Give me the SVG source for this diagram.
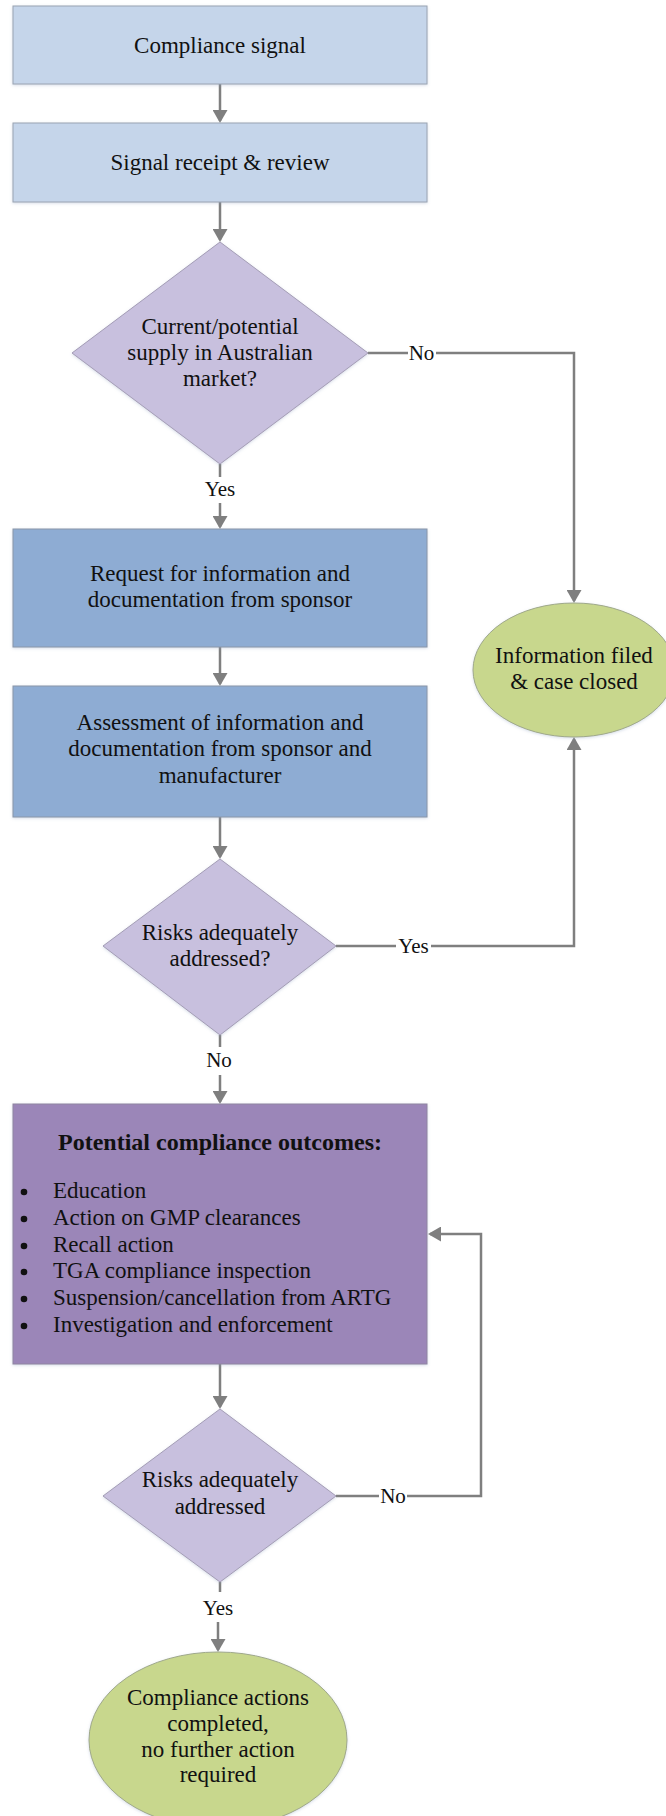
<svg xmlns="http://www.w3.org/2000/svg" width="666" height="1816" viewBox="0 0 666 1816">
<defs>
<style>
.t{font-family:"Liberation Serif","Times New Roman",serif;font-size:23px;fill:#111;text-anchor:middle}
.l{font-family:"Liberation Serif","Times New Roman",serif;font-size:21px;fill:#111;text-anchor:middle}
.b{font-family:"Liberation Serif","Times New Roman",serif;font-size:24px;font-weight:bold;fill:#111;text-anchor:middle}
.li{font-family:"Liberation Serif","Times New Roman",serif;font-size:23px;fill:#111}
.dot{fill:#111}
.s1{fill:#c5d5ea;stroke:#9aa3b2;stroke-width:1}
.s2{fill:#8eacd3;stroke:#8a96a8;stroke-width:1}
.dm{fill:#c8c0de;stroke:#a49db5;stroke-width:1}
.s5{fill:#9b86b8;stroke:#8f85a0;stroke-width:1}
.el{fill:#c8d78d;stroke:#9fa88a;stroke-width:1}
.c{fill:none;stroke:#7f7f7f;stroke-width:2.5}
.ca{fill:none;stroke:#7f7f7f;stroke-width:2.5;marker-end:url(#ah)}
</style>
<marker id="ah" viewBox="0 0 13 15" refX="11" refY="7.5" markerWidth="13" markerHeight="15" markerUnits="userSpaceOnUse" orient="auto">
<path d="M0,0 L13,7.5 L0,15 z" fill="#7f7f7f"/>
</marker>
<filter id="sh" x="-10%" y="-10%" width="120%" height="120%">
<feDropShadow dx="0" dy="1" stdDeviation="1.5" flood-color="#8ea0c0" flood-opacity="0.35"/>
</filter>
</defs>

<g id="connectors">
<path class="ca" d="M220,84 V121"/>
<path class="ca" d="M220,202 V240"/>
<path class="c" d="M220,464 V477"/>
<path class="ca" d="M220,503 V527"/>
<path class="ca" d="M220,647 V684"/>
<path class="ca" d="M220,817 V857"/>
<path class="c" d="M220,1035 V1047"/>
<path class="ca" d="M220,1075 V1102"/>
<path class="ca" d="M220,1364 V1407"/>
<path class="c" d="M220,1582 V1592"/>
<path class="ca" d="M218,1622 V1650"/>
<path class="c" d="M368,353 H408"/>
<path class="ca" d="M436,353 H574 V601"/>
<path class="c" d="M336,946 H396"/>
<path class="ca" d="M431,946 H574 V739"/>
<path class="c" d="M336,1496 H379"/>
<path class="ca" d="M407,1496 H481 V1234 H430"/>
<text class="l" x="421.5" y="360">No</text>
<text class="l" x="220" y="496">Yes</text>
<text class="l" x="413.5" y="953">Yes</text>
<text class="l" x="219" y="1067">No</text>
<text class="l" x="393" y="1503">No</text>
<text class="l" x="218" y="1615">Yes</text>
</g>

<g id="compliance-signal">
<rect class="s1" filter="url(#sh)" x="13" y="6" width="414" height="78"/>
<text class="t" x="220" y="53">Compliance signal</text>
</g>

<g id="signal-receipt">
<rect class="s1" filter="url(#sh)" x="13" y="123" width="414" height="79"/>
<text class="t" x="220" y="170">Signal receipt &amp; review</text>
</g>

<g id="supply-decision">
<polygon class="dm" filter="url(#sh)" points="220,242 368,353 220,464 72,353"/>
<text class="t" x="220" y="334">Current/potential</text>
<text class="t" x="220" y="360">supply in Australian</text>
<text class="t" x="220" y="386">market?</text>
</g>

<g id="request-info">
<rect class="s2" filter="url(#sh)" x="13" y="529" width="414" height="118"/>
<text class="t" x="220" y="581">Request for information and</text>
<text class="t" x="220" y="607">documentation from sponsor</text>
</g>

<g id="assessment">
<rect class="s2" filter="url(#sh)" x="13" y="686" width="414" height="131"/>
<text class="t" x="220" y="730">Assessment of information and</text>
<text class="t" x="220" y="756">documentation from sponsor and</text>
<text class="t" x="220" y="783">manufacturer</text>
</g>

<g id="risks-decision-1">
<polygon class="dm" filter="url(#sh)" points="220,859 336,946 220,1035 103,946"/>
<text class="t" x="220" y="940">Risks adequately</text>
<text class="t" x="220" y="966">addressed?</text>
</g>

<g id="info-filed">
<ellipse class="el" filter="url(#sh)" cx="574" cy="670" rx="101" ry="67"/>
<text class="t" x="574" y="663">Information filed</text>
<text class="t" x="574" y="689">&amp; case closed</text>
</g>

<g id="outcomes">
<rect class="s5" filter="url(#sh)" x="13" y="1104" width="414" height="260"/>
<text class="b" x="220" y="1150">Potential compliance outcomes:</text>
<circle class="dot" cx="24" cy="1192" r="3.3"/>
<text class="li" x="53" y="1198">Education</text>
<circle class="dot" cx="24" cy="1219" r="3.3"/>
<text class="li" x="53" y="1225">Action on GMP clearances</text>
<circle class="dot" cx="24" cy="1246" r="3.3"/>
<text class="li" x="53" y="1252">Recall action</text>
<circle class="dot" cx="24" cy="1272" r="3.3"/>
<text class="li" x="53" y="1278">TGA compliance inspection</text>
<circle class="dot" cx="24" cy="1299" r="3.3"/>
<text class="li" x="53" y="1305">Suspension/cancellation from ARTG</text>
<circle class="dot" cx="24" cy="1326" r="3.3"/>
<text class="li" x="53" y="1332">Investigation and enforcement</text>
</g>

<g id="risks-decision-2">
<polygon class="dm" filter="url(#sh)" points="220,1409 336,1496 220,1582 103,1496"/>
<text class="t" x="220" y="1487">Risks adequately</text>
<text class="t" x="220" y="1514">addressed</text>
</g>

<g id="actions-completed">
<ellipse class="el" filter="url(#sh)" cx="218" cy="1740" rx="129" ry="88"/>
<text class="t" x="218" y="1705">Compliance actions</text>
<text class="t" x="218" y="1731">completed,</text>
<text class="t" x="218" y="1757">no further action</text>
<text class="t" x="218" y="1782">required</text>
</g>
</svg>
